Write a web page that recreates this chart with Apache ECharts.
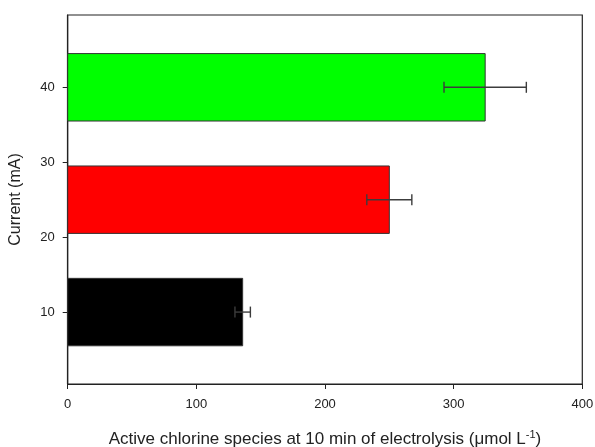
<!DOCTYPE html>
<html>
<head>
<meta charset="utf-8">
<script src="https://cdn.jsdelivr.net/npm/echarts@6/dist/echarts.min.js"></script>
<style>html,body{margin:0;padding:0;background:#fff}#c{width:595px;height:447px}</style>
</head>
<body>
<div id="c"></div>
<script>
const currents = [10, 25, 40];
const chlorine = [136, 250, 324.5];
const errors = [6, 17.5, 32];
const barColors = ['#000000', '#ff0000', '#00ff00'];
const yTicks = [10, 20, 30, 40];
const barHalf = 4.5;

const chart = echarts.init(document.getElementById('c'), null, {renderer: 'canvas'});
const font = 'Liberation Sans, Arial, sans-serif';
const data = currents.map((c, i) => [chlorine[i], c, errors[i], i]);

chart.setOption({
  animation: false,
  backgroundColor: '#fff',
  grid: {left: 67.7, right: 12.7, top: 15, bottom: 63, outerBoundsMode: 'none', containLabel: false,
    show: true, borderColor: '#222', borderWidth: 1.2, backgroundColor: 'transparent'},
  xAxis: {
    type: 'value', min: 0, max: 400, interval: 100,
    axisLine: {show: true, lineStyle: {color: '#222', width: 1.2}},
    axisTick: {show: true, inside: false, length: 5, lineStyle: {color: '#222'}},
    splitLine: {show: false},
    axisLabel: {color: '#222', fontFamily: font, fontSize: 13, margin: 14},
    name: 'Active chlorine species at 10 min of electrolysis ({u|μ}mol L{s|-1})',
    nameLocation: 'middle', nameGap: 45,
    nameTextStyle: {color: '#222', fontFamily: font, fontSize: 17,
      rich: {u: {fontFamily: font, fontSize: 17, color: '#222'}, s: {fontFamily: font, fontSize: 11, color: '#222', verticalAlign: 'top', padding: [0, 0, 9, 0]}}}
  },
  yAxis: {
    type: 'value', min: 0.4, max: 49.65,
    axisLine: {show: true, lineStyle: {color: '#222', width: 1.2}},
    axisTick: {show: true, inside: false, length: 5, customValues: yTicks, lineStyle: {color: '#222'}},
    splitLine: {show: false},
    axisLabel: {color: '#222', fontFamily: font, fontSize: 13, margin: 13, customValues: yTicks},
    name: 'Current (mA)', nameLocation: 'middle', nameGap: 44, nameRotate: 90,
    nameTextStyle: {color: '#222', fontFamily: font, fontSize: 16}
  },
  series: [
    {
      type: 'custom',
      data: data,
      encode: {x: 0, y: 1},
      renderItem: function (params, api) {
        const x = api.value(0), y = api.value(1), idx = api.value(3);
        const p0 = api.coord([0, y + barHalf]);
        const p1 = api.coord([x, y - barHalf]);
        return {
          type: 'rect',
          shape: {x: p0[0], y: p0[1], width: p1[0] - p0[0], height: p1[1] - p0[1]},
          style: {fill: barColors[idx], stroke: '#333', lineWidth: 1}
        };
      }
    },
    {
      type: 'custom',
      data: data,
      encode: {x: 0, y: 1},
      z: 5,
      renderItem: function (params, api) {
        const x = api.value(0), y = api.value(1), e = api.value(2);
        const a = api.coord([x - e, y]);
        const b = api.coord([x + e, y]);
        const cap = 5.5;
        const st = {stroke: '#3c3c3c', lineWidth: 1.4};
        return {
          type: 'group',
          children: [
            {type: 'line', shape: {x1: a[0], y1: a[1], x2: b[0], y2: b[1]}, style: st},
            {type: 'line', shape: {x1: a[0], y1: a[1] - cap, x2: a[0], y2: a[1] + cap}, style: st},
            {type: 'line', shape: {x1: b[0], y1: b[1] - cap, x2: b[0], y2: b[1] + cap}, style: st}
          ]
        };
      }
    }
  ]
});
</script>
</body>
</html>
